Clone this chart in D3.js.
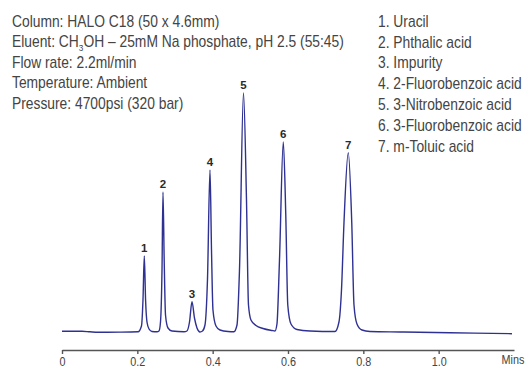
<!DOCTYPE html>
<html>
<head>
<meta charset="utf-8">
<script src="https://cdn.jsdelivr.net/npm/d3@7"></script>
<style>
  body { margin: 0; background: #fff; }
  svg { display: block; }
  text { font-family: "Liberation Sans", Arial, Helvetica, sans-serif; }
</style>
</head>
<body>
<div id="chart"></div>
<script>
// conditions shown top left
const conditions = [
  'Column: HALO C18 (50 x 4.6mm)',
  'Eluent: CH|3|OH \u2013 25mM Na phosphate, pH 2.5 (55:45)',
  'Flow rate: 2.2ml/min',
  'Temperature: Ambient',
  'Pressure: 4700psi (320 bar)'
];

// peak legend
const compounds = [
  '1. Uracil',
  '2. Phthalic acid',
  '3. Impurity',
  '4. 2-Fluorobenzoic acid',
  '5. 3-Nitrobenzoic acid',
  '6. 3-Fluorobenzoic acid',
  '7. m-Toluic acid'
];

// peak apexes: retention time (min) and response
const peakIds = [1, 2, 3, 4, 5, 6, 7];
const peakTimes = [0.2185, 0.2681, 0.3451, 0.3929, 0.4818, 0.5875, 0.7600];
const peakHeights = [75.5, 139.5, 29.8, 161.5, 238.5, 189.5, 178.8];

// trace
const traceTime = [
  0, 0.0531, 0.0743, 0.0956, 0.1540, 0.2018,
  0.2110, 0.2150, 0.2185, 0.2219, 0.2256, 0.2310, 0.2389, 0.2522,
  0.2575, 0.2615, 0.2655, 0.2681, 0.2713, 0.2748, 0.2814, 0.2920, 0.3239,
  0.3318, 0.3385, 0.3451, 0.3517, 0.3584, 0.3663,
  0.3730, 0.3796, 0.3862, 0.3929, 0.3969, 0.4008, 0.4088, 0.4194, 0.4407, 0.4566,
  0.4646, 0.4712, 0.4818, 0.4898, 0.4951, 0.5017, 0.5150, 0.5336, 0.5575, 0.5654,
  0.5707, 0.5774, 0.5875, 0.5941, 0.5994, 0.6079, 0.6238, 0.6584, 0.7247,
  0.7353, 0.7420, 0.7486, 0.7600, 0.7693, 0.7752, 0.7831, 0.7964, 0.8176,
  0.8973, 1.0300, 1.1946
];
const traceSignal = [
  0.2, 0.2, -0.3, -0.7, -0.6, -0.3,
  5.5, 31.5, 75.5, 31.5, 9.5, 2.5, 0, -0.3,
  0.5, 9.5, 61.5, 139.5, 71.5, 16.5, 3.5, 0.5, -0.3,
  0.5, 9.5, 29.8, 13.5, 3.5, -0.5,
  0.5, 6.5, 51.5, 161.5, 81.5, 21.5, 5.5, 1.5, 0, -0.2,
  6.5, 61.5, 238.5, 131.5, 26.5, 11.5, 6, 3, 1, 0.5,
  7.5, 71.5, 189.5, 116.5, 26.5, 7.5, 2, 0.5, 0,
  9.5, 41.5, 108.5, 178.8, 108.5, 26.5, 7.5, 1.5, 0,
  -0.5, -1.3, -2.2
];

const xTicks = [0, 0.2, 0.4, 0.6, 0.8, 1.0];

const width = 525;
const height = 367;
const narrow = 0.865; // condensed look of the original type
const narrowTick = 0.9;

const svg = d3.select('#chart').append('svg')
  .attr('width', width)
  .attr('height', height);

const x = d3.scaleLinear().domain([0, 1.2]).range([62, 514]);
const y = d3.scaleLinear().domain([0, 250]).range([331.5, 81.5]);

// x axis
const axis = svg.append('g')
  .attr('transform', 'translate(0,350)')
  .call(d3.axisBottom(x)
    .tickValues(xTicks)
    .tickSize(4)
    .tickSizeOuter(0)
    .tickPadding(3)
    .tickFormat(d => d === 0 ? '0' : d3.format('.1f')(d)));
axis.select('.domain').attr('stroke', '#555').attr('stroke-width', 1.6);
axis.selectAll('.tick line').attr('stroke', '#555').attr('stroke-width', 1.4);
axis.selectAll('.tick text')
  .attr('fill', '#444')
  .attr('transform', `scale(${narrowTick},1)`)
  .style('font-size', '12px')
  .style('font-family', '"Liberation Sans", Arial, sans-serif');

svg.append('text')
  .attr('transform', `translate(${x(1.2) - 1},364) scale(${narrowTick},1)`)
  .attr('text-anchor', 'middle')
  .attr('fill', '#444')
  .style('font-size', '12px')
  .text('Mins');

// chromatogram
const trace = traceTime.map((t, i) => ({ t, s: traceSignal[i] }));
const line = d3.line()
  .x(d => x(d.t))
  .y(d => y(d.s))
  .curve(d3.curveMonotoneX);

svg.append('path')
  .datum(trace)
  .attr('fill', 'none')
  .attr('stroke', '#2e3192')
  .attr('stroke-width', 1.4)
  .attr('stroke-linejoin', 'round')
  .attr('d', line);

// peak numbers
svg.append('g')
  .selectAll('text')
  .data(peakIds)
  .join('text')
  .attr('x', (d, i) => x(peakTimes[i]))
  .attr('y', (d, i) => y(peakHeights[i]) - 4)
  .attr('text-anchor', 'middle')
  .attr('fill', '#2a2a2a')
  .style('font-size', '11.5px')
  .style('font-weight', 'bold')
  .text(d => d);

// conditions block
const cond = svg.append('g')
  .attr('transform', `translate(12,0) scale(${narrow},1)`)
  .selectAll('text')
  .data(conditions)
  .join('text')
  .attr('x', 0)
  .attr('y', (d, i) => 27 + i * 20.5)
  .attr('fill', '#444')
  .style('font-size', '16px');

cond.each(function (d) {
  const parts = d.split('|');
  const t = d3.select(this);
  if (parts.length === 1) {
    t.text(d);
    return;
  }
  t.append('tspan').text(parts[0]);
  t.append('tspan').attr('dy', 4).style('font-size', '9.5px').text(parts[1]);
  t.append('tspan').attr('dy', -4).text(parts[2]);
});

// compound legend
svg.append('g')
  .attr('transform', `translate(378,0) scale(${narrow},1)`)
  .selectAll('text')
  .data(compounds)
  .join('text')
  .attr('x', 0)
  .attr('y', (d, i) => 26.7 + i * 20.83)
  .attr('fill', '#444')
  .style('font-size', '16px')
  .text(d => d);
</script>
</body>
</html>
